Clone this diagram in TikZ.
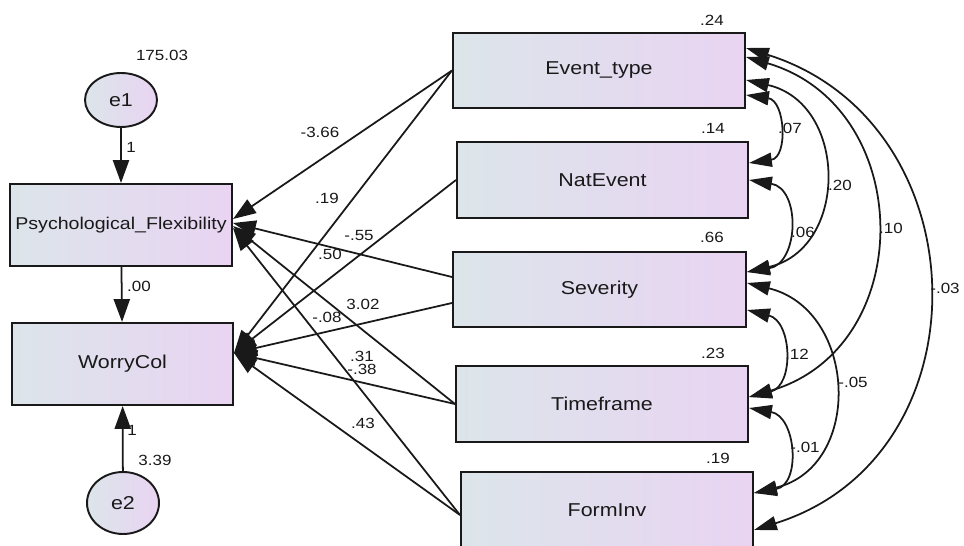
\documentclass[tikz,border=0pt]{standalone}
\usepackage{fontspec}
\setmainfont{Liberation Sans}[FakeStretch=1.15]
\usetikzlibrary{arrows.meta,calc,shapes.geometric}

\definecolor{shadeL}{RGB}{220,229,234}
\definecolor{shadeR}{RGB}{233,212,242}
\definecolor{ink}{RGB}{25,25,25}

\tikzset{
  var/.style={draw=ink, line width=1.2pt, rectangle, inner sep=0pt,
    left color=shadeL, right color=shadeR, text=ink,
    font=\fontsize{10.6}{12}\selectfont},
  err/.style={draw=ink, line width=1.1pt, ellipse, inner sep=0pt,
    minimum width=1.44cm, left color=shadeL, right color=shadeR, text=ink,
    font=\fontsize{10.6}{12}\selectfont},
  reg/.style={draw=ink, line width=1pt, -{Triangle[length=13pt,width=9.2pt]}},
  cov/.style={draw=ink, line width=1pt,
    {Triangle[length=13pt,width=8pt]}-{Triangle[length=13pt,width=8pt]}},
  num/.style={font=\fontsize{8.4}{10}\selectfont, text=ink, inner sep=0pt},
}

\begin{document}
\begin{tikzpicture}[x=0.02cm, y=-0.02cm]
\useasboundingbox (0,0) rectangle (964,546);
\clip (0,0) rectangle (964,546);
\fill[white] (0,0) rectangle (964,546);

% endogenous variables and their error terms
\node[var, minimum width=4.44cm, minimum height=1.64cm,
      font=\fontsize{9.7}{12}\selectfont] (pf) at (121,225) {Psychological\_Flexibility};
\node[var, minimum width=4.42cm, minimum height=1.64cm] (wc) at (122.5,364) {WorryCol};
\node[err, minimum height=1.08cm] (e1) at (121,100) {e1};
\node[err, minimum height=1.24cm] (e2) at (123,503) {e2};

% exogenous variables
\node[var, minimum width=5.84cm, minimum height=1.50cm] (evt) at (599,70.5) {Event\_type};
\node[var, minimum width=5.82cm, minimum height=1.52cm] (nat) at (602.5,180) {NatEvent};
\node[var, minimum width=5.86cm, minimum height=1.50cm] (sev) at (599.5,289.5) {Severity};
\node[var, minimum width=5.84cm, minimum height=1.52cm] (tim) at (602,404) {Timeframe};
\node[var, minimum width=5.84cm, minimum height=1.52cm] (frm) at (607,510) {FormInv};

% attachment points on the left-hand boxes
\coordinate (pfA) at ($(pf.east)+(0,-6)$);
\coordinate (pfB) at ($(pf.east)+(0,-2)$);
\coordinate (pfC) at ($(pf.east)+(0,1)$);
\coordinate (pfD) at ($(pf.east)+(0,3)$);
\coordinate (wcIn) at ($(wc.east)+(0,-11)$);
\coordinate (sevP) at ($(sev.west)+(0,-12.5)$);
\coordinate (sevW) at ($(sev.west)+(0,13.5)$);
\coordinate (frmO) at ($(frm.west)+(0,5)$);

% error terms
\draw[reg] (e1) -- (pf);
\draw[reg] (e2) -- (wc);
\draw[reg] (pf) -- (wc);

% regression paths
\draw[reg] (evt.west) -- (pfA);
\draw[reg] (evt.west) -- (wcIn);
\draw[reg] (nat.west) -- (wcIn);
\draw[reg] (sevP) -- (pfB);
\draw[reg] (sevW) -- (wcIn);
\draw[reg] (tim.west) -- (pfC);
\draw[reg] (tim.west) -- (wcIn);
\draw[reg] (frmO) -- (pfD);
\draw[reg] (frmO) -- (wcIn);

% attachment points for the covariances
\coordinate (evt1) at ($(evt.east)+(0,-22.5)$);
\coordinate (evt2) at ($(evt.east)+(0,-13.5)$);
\coordinate (evt3) at ($(evt.east)+(0,9.5)$);
\coordinate (evt4) at ($(evt.east)+(0,24.5)$);
\coordinate (nat1) at ($(nat.east)+(0,-17)$);
\coordinate (nat2) at (nat.east);
\coordinate (sev1) at ($(sev.east)+(0,-17.5)$);
\coordinate (sev2) at ($(sev.east)+(0,-6.5)$);
\coordinate (sev3) at ($(sev.east)+(0,20.5)$);
\coordinate (tim1) at ($(tim.east)+(0,-7)$);
\coordinate (tim2) at ($(tim.east)+(0,4)$);
\coordinate (frm1) at ($(frm.east)+(0,-17)$);
\coordinate (frm2) at ($(frm.east)+(0,20)$);

% covariances
\draw[cov] (evt4) .. controls +(39.3,5.6) and +(39.3,-5.6) .. (nat1);
\draw[cov] (nat2) .. controls +(52,8.6) and +(52,-8.6) .. (sev1);
\draw[cov] (evt3) .. controls +(102.1,23.4) and +(102.1,-23.4) .. (sev1);
\draw[cov] (evt2) .. controls +(170,49.6) and +(170,-49.6) .. (tim1);
\draw[cov] (evt1) .. controls +(235.9,73.9) and +(235.9,-73.9) .. (frm2);
\draw[cov] (sev3) .. controls +(45.3,11.3) and +(45.3,-11.3) .. (tim1);
\draw[cov] (sev2) .. controls +(110.1,26.8) and +(110.1,-26.8) .. (frm1);
\draw[cov] (tim2) .. controls +(47.3,8.5) and +(47.3,-8.5) .. (frm1);

% estimates
\node[num] (v1) at (162,55) {175.03};
\node[num] (w1) at (131,147) {1};
\node[num] (w0) at (139,286) {.00};
\node[num] (w2) at (132,430) {1};
\node[num] (v2) at (155,460) {3.39};

\node[num] (b1) at (320,132) {-3.66};
\node[num] (b2) at (327,198) {.19};
\node[num] (b3) at (359,236) {-.55};
\node[num] (b4) at (330,254) {.50};
\node[num] (b5) at (363,304) {3.02};
\node[num] (b6) at (327,317) {-.08};
\node[num] (b7) at (362,356) {.31};
\node[num] (b8) at (362,369) {-.38};
\node[num] (b9) at (363,423) {.43};

\node[num] (m1) at (712,20) {.24};
\node[num] (m2) at (713,128) {.14};
\node[num] (m3) at (712,237) {.66};
\node[num] (m4) at (713,353) {.23};
\node[num] (m5) at (718,458) {.19};

\node[num] (c1) at (790,128) {.07};
\node[num] (c2) at (840,185) {.20};
\node[num] (c3) at (803,232) {.06};
\node[num] (c4) at (891,228) {.10};
\node[num] (c5) at (945,288) {-.03};
\node[num] (c6) at (797,354) {.12};
\node[num] (c7) at (853,382) {-.05};
\node[num] (c8) at (805,447) {-.01};
\end{tikzpicture}
\end{document}
